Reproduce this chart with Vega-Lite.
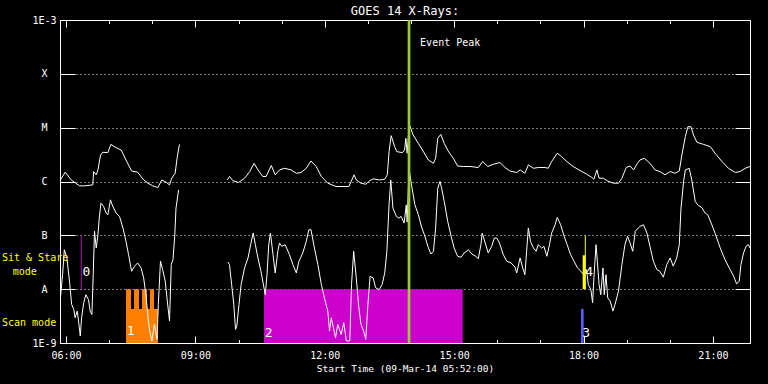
{
  "$schema": "https://vega.github.io/schema/vega-lite/v6.json",
  "autosize": {"type": "none"},
  "padding": {"left": 60, "top": 20, "right": 18, "bottom": 41},
  "width": 690,
  "height": 323,
  "background": "black",
  "title": {"text": "GOES 14 X-Rays:", "color": "white", "font": "DejaVu Sans Mono", "fontSize": 12, "fontWeight": "normal", "anchor": "middle", "offset": -3},
  "config": {
    "view": {"stroke": "white", "strokeWidth": 1},
    "axis": {"domain": false, "labelFont": "DejaVu Sans Mono", "labelColor": "white", "labelFontSize": 10, "tickColor": "white", "tickWidth": 1, "titleColor": "white", "titleFont": "DejaVu Sans Mono", "titleFontWeight": "normal", "titleFontSize": 9.5, "grid": false}
  },
  "datasets": {
    "xrays": [
      {"series":"L1","hour":5.87,"flux":1.07e-6},{"series":"L1","hour":5.98,"flux":1.49e-6},{"series":"L1","hour":6.12,"flux":1.07e-6},{"series":"L1","hour":6.31,"flux":8.3e-7},{"series":"L1","hour":6.43,"flux":8.3e-7},{"series":"L1","hour":6.62,"flux":8.65e-7},{"series":"L1","hour":6.64,"flux":1.53e-6},{"series":"L1","hour":6.70,"flux":1.33e-6},{"series":"L1","hour":6.74,"flux":1.64e-6},{"series":"L1","hour":6.80,"flux":3.1e-6},{"series":"L1","hour":6.85,"flux":3.49e-6},{"series":"L1","hour":6.97,"flux":3.44e-6},{"series":"L1","hour":7.04,"flux":4.9e-6},{"series":"L1","hour":7.16,"flux":4.26e-6},{"series":"L1","hour":7.28,"flux":3.84e-6},{"series":"L1","hour":7.39,"flux":2.51e-6},{"series":"L1","hour":7.52,"flux":1.57e-6},{"series":"L1","hour":7.66,"flux":1.49e-6},{"series":"L1","hour":7.80,"flux":1.07e-6},{"series":"L1","hour":7.90,"flux":9.3e-7},{"series":"L1","hour":8.01,"flux":8.3e-7},{"series":"L1","hour":8.13,"flux":7.74e-7},{"series":"L1","hour":8.22,"flux":1.07e-6},{"series":"L1","hour":8.32,"flux":9.7e-7},{"series":"L1","hour":8.40,"flux":8.65e-7},{"series":"L1","hour":8.45,"flux":1.15e-6},{"series":"L1","hour":8.53,"flux":1.42e-6},{"series":"L1","hour":8.58,"flux":2.9e-6},{"series":"L1","hour":8.63,"flux":4.9e-6},
      {"series":"L2","hour":9.74,"flux":1.07e-6},{"series":"L2","hour":9.79,"flux":1.24e-6},{"series":"L2","hour":9.87,"flux":1.03e-6},{"series":"L2","hour":10.00,"flux":9.6e-7},{"series":"L2","hour":10.14,"flux":1.15e-6},{"series":"L2","hour":10.26,"flux":1.53e-6},{"series":"L2","hour":10.36,"flux":2.18e-6},{"series":"L2","hour":10.45,"flux":1.64e-6},{"series":"L2","hour":10.56,"flux":1.24e-6},{"series":"L2","hour":10.64,"flux":1.24e-6},{"series":"L2","hour":10.76,"flux":1.98e-6},{"series":"L2","hour":10.85,"flux":1.33e-6},{"series":"L2","hour":10.95,"flux":1.64e-6},{"series":"L2","hour":11.07,"flux":1.76e-6},{"series":"L2","hour":11.22,"flux":1.64e-6},{"series":"L2","hour":11.34,"flux":1.42e-6},{"series":"L2","hour":11.45,"flux":1.47e-6},{"series":"L2","hour":11.57,"flux":1.76e-6},{"series":"L2","hour":11.68,"flux":2.41e-6},{"series":"L2","hour":11.80,"flux":1.9e-6},{"series":"L2","hour":11.92,"flux":1.24e-6},{"series":"L2","hour":12.07,"flux":9.3e-7},{"series":"L2","hour":12.26,"flux":8.07e-7},{"series":"L2","hour":12.56,"flux":8.07e-7},{"series":"L2","hour":12.61,"flux":1.0e-6},{"series":"L2","hour":12.68,"flux":1.33e-6},{"series":"L2","hour":12.73,"flux":1.07e-6},{"series":"L2","hour":12.84,"flux":9.3e-7},{"series":"L2","hour":12.95,"flux":8.9e-7},{"series":"L2","hour":13.04,"flux":1.03e-6},{"series":"L2","hour":13.12,"flux":1.12e-6},{"series":"L2","hour":13.27,"flux":1.07e-6},{"series":"L2","hour":13.39,"flux":1.1e-6},{"series":"L2","hour":13.45,"flux":1.33e-6},{"series":"L2","hour":13.49,"flux":3.59e-6},{"series":"L2","hour":13.54,"flux":7.1e-6},{"series":"L2","hour":13.62,"flux":4.45e-6},{"series":"L2","hour":13.67,"flux":3.59e-6},{"series":"L2","hour":13.80,"flux":3.44e-6},{"series":"L2","hour":13.85,"flux":3.84e-6},{"series":"L2","hour":13.88,"flux":6.34e-6},{"series":"L2","hour":13.91,"flux":3.35e-6},{"series":"L2","hour":13.94,"flux":7.2e-6},{"series":"L2","hour":13.97,"flux":1.09e-5},{"series":"L2","hour":14.05,"flux":7.3e-6},{"series":"L2","hour":14.17,"flux":5.1e-6},{"series":"L2","hour":14.28,"flux":3.68e-6},{"series":"L2","hour":14.40,"flux":2.51e-6},{"series":"L2","hour":14.52,"flux":2.18e-6},{"series":"L2","hour":14.57,"flux":2.7e-6},{"series":"L2","hour":14.62,"flux":6.34e-6},{"series":"L2","hour":14.69,"flux":7.5e-6},{"series":"L2","hour":14.77,"flux":5.1e-6},{"series":"L2","hour":14.86,"flux":3.68e-6},{"series":"L2","hour":14.98,"flux":2.7e-6},{"series":"L2","hour":15.08,"flux":1.94e-6},{"series":"L2","hour":15.21,"flux":1.9e-6},{"series":"L2","hour":15.37,"flux":1.9e-6},{"series":"L2","hour":15.56,"flux":1.82e-6},{"series":"L2","hour":15.66,"flux":2.35e-6},{"series":"L2","hour":15.78,"flux":1.9e-6},{"series":"L2","hour":15.91,"flux":2.09e-6},{"series":"L2","hour":16.06,"flux":2.25e-6},{"series":"L2","hour":16.18,"flux":1.82e-6},{"series":"L2","hour":16.29,"flux":1.57e-6},{"series":"L2","hour":16.45,"flux":1.47e-6},{"series":"L2","hour":16.53,"flux":1.64e-6},{"series":"L2","hour":16.64,"flux":1.42e-6},{"series":"L2","hour":16.72,"flux":2.03e-6},{"series":"L2","hour":16.84,"flux":1.76e-6},{"series":"L2","hour":16.95,"flux":1.82e-6},{"series":"L2","hour":17.11,"flux":1.82e-6},{"series":"L2","hour":17.18,"flux":1.76e-6},{"series":"L2","hour":17.26,"flux":2.35e-6},{"series":"L2","hour":17.39,"flux":3.35e-6},{"series":"L2","hour":17.49,"flux":2.9e-6},{"series":"L2","hour":17.61,"flux":2.35e-6},{"series":"L2","hour":17.76,"flux":1.9e-6},{"series":"L2","hour":17.92,"flux":1.6e-6},{"series":"L2","hour":18.07,"flux":1.37e-6},{"series":"L2","hour":18.19,"flux":1.19e-6},{"series":"L2","hour":18.24,"flux":1.1e-6},{"series":"L2","hour":18.31,"flux":1.64e-6},{"series":"L2","hour":18.36,"flux":1.15e-6},{"series":"L2","hour":18.46,"flux":1.15e-6},{"series":"L2","hour":18.55,"flux":1.03e-6},{"series":"L2","hour":18.69,"flux":9.3e-7},{"series":"L2","hour":18.81,"flux":9.3e-7},{"series":"L2","hour":18.89,"flux":1.15e-6},{"series":"L2","hour":18.99,"flux":1.82e-6},{"series":"L2","hour":19.08,"flux":1.94e-6},{"series":"L2","hour":19.16,"flux":1.64e-6},{"series":"L2","hour":19.25,"flux":2.18e-6},{"series":"L2","hour":19.31,"flux":2.51e-6},{"series":"L2","hour":19.41,"flux":2.7e-6},{"series":"L2","hour":19.54,"flux":2.18e-6},{"series":"L2","hour":19.66,"flux":1.64e-6},{"series":"L2","hour":19.77,"flux":1.53e-6},{"series":"L2","hour":19.89,"flux":1.33e-6},{"series":"L2","hour":20.01,"flux":1.53e-6},{"series":"L2","hour":20.12,"flux":1.42e-6},{"series":"L2","hour":20.22,"flux":1.57e-6},{"series":"L2","hour":20.28,"flux":3.1e-6},{"series":"L2","hour":20.36,"flux":6.81e-6},{"series":"L2","hour":20.42,"flux":1.04e-5},{"series":"L2","hour":20.49,"flux":1.04e-5},{"series":"L2","hour":20.55,"flux":7.3e-6},{"series":"L2","hour":20.63,"flux":5.35e-6},{"series":"L2","hour":20.78,"flux":4.9e-6},{"series":"L2","hour":20.94,"flux":4.45e-6},{"series":"L2","hour":21.05,"flux":3.35e-6},{"series":"L2","hour":21.21,"flux":2.35e-6},{"series":"L2","hour":21.36,"flux":1.76e-6},{"series":"L2","hour":21.52,"flux":1.47e-6},{"series":"L2","hour":21.63,"flux":1.53e-6},{"series":"L2","hour":21.75,"flux":1.76e-6},{"series":"L2","hour":21.86,"flux":1.9e-6},
      {"series":"S1","hour":5.87,"flux":6.9e-9},{"series":"S1","hour":5.92,"flux":1.86e-8},{"series":"S1","hour":5.96,"flux":5.4e-8},{"series":"S1","hour":6.02,"flux":3.8e-8},{"series":"S1","hour":6.08,"flux":1.41e-8},{"series":"S1","hour":6.13,"flux":5.2e-9},{"series":"S1","hour":6.18,"flux":4.2e-9},{"series":"S1","hour":6.21,"flux":2.94e-9},{"series":"S1","hour":6.26,"flux":3.91e-9},{"series":"S1","hour":6.29,"flux":2.56e-9},{"series":"S1","hour":6.33,"flux":1.35e-9},{"series":"S1","hour":6.36,"flux":2.94e-9},{"series":"S1","hour":6.41,"flux":5.6e-9},{"series":"S1","hour":6.46,"flux":7.9e-9},{"series":"S1","hour":6.52,"flux":6.4e-9},{"series":"S1","hour":6.56,"flux":3.91e-9},{"series":"S1","hour":6.60,"flux":3.38e-9},{"series":"S1","hour":6.63,"flux":1.86e-8},{"series":"S1","hour":6.66,"flux":1.19e-7},{"series":"S1","hour":6.70,"flux":5.8e-8},{"series":"S1","hour":6.74,"flux":1.03e-7},{"series":"S1","hour":6.77,"flux":2.09e-7},{"series":"S1","hour":6.81,"flux":3.96e-7},{"series":"S1","hour":6.87,"flux":3.44e-7},{"series":"S1","hour":6.93,"flux":2.59e-7},{"series":"S1","hour":6.97,"flux":2.41e-7},{"series":"S1","hour":7.03,"flux":4.56e-7},{"series":"S1","hour":7.07,"flux":3.68e-7},{"series":"S1","hour":7.16,"flux":2.59e-7},{"series":"S1","hour":7.24,"flux":2.25e-7},{"series":"S1","hour":7.32,"flux":1.37e-7},{"series":"S1","hour":7.39,"flux":7.74e-8},{"series":"S1","hour":7.45,"flux":4.37e-8},{"series":"S1","hour":7.52,"flux":2.15e-8},{"series":"S1","hour":7.59,"flux":2.67e-8},{"series":"S1","hour":7.66,"flux":3.07e-8},{"series":"S1","hour":7.74,"flux":2.48e-8},{"series":"S1","hour":7.80,"flux":1.62e-8},{"series":"S1","hour":7.86,"flux":6.9e-9},{"series":"S1","hour":7.90,"flux":2.94e-9},{"series":"S1","hour":7.94,"flux":1.67e-9},{"series":"S1","hour":7.99,"flux":1.09e-9},{"series":"S1","hour":8.05,"flux":2.21e-9},{"series":"S1","hour":8.11,"flux":1.17e-9},{"series":"S1","hour":8.14,"flux":5.2e-9},{"series":"S1","hour":8.19,"flux":3.3e-8},{"series":"S1","hour":8.24,"flux":2.31e-8},{"series":"S1","hour":8.30,"flux":1.41e-8},{"series":"S1","hour":8.34,"flux":6.9e-9},{"series":"S1","hour":8.40,"flux":2.56e-9},{"series":"S1","hour":8.44,"flux":2.86e-8},{"series":"S1","hour":8.48,"flux":3.53e-8},{"series":"S1","hour":8.52,"flux":9.58e-8},{"series":"S1","hour":8.55,"flux":3.2e-7},{"series":"S1","hour":8.61,"flux":6.98e-7},
      {"series":"S2","hour":9.75,"flux":3.2e-8},{"series":"S2","hour":9.79,"flux":2.86e-8},{"series":"S2","hour":9.84,"flux":1.22e-8},{"series":"S2","hour":9.89,"flux":5.2e-9},{"series":"S2","hour":9.93,"flux":1.79e-9},{"series":"S2","hour":9.96,"flux":2.07e-9},{"series":"S2","hour":10.01,"flux":5.2e-9},{"series":"S2","hour":10.06,"flux":1.22e-8},{"series":"S2","hour":10.14,"flux":2.48e-8},{"series":"S2","hour":10.22,"flux":3.8e-8},{"series":"S2","hour":10.28,"flux":6.7e-8},{"series":"S2","hour":10.34,"flux":1.1e-7},{"series":"S2","hour":10.39,"flux":6.7e-8},{"series":"S2","hour":10.45,"flux":3.8e-8},{"series":"S2","hour":10.52,"flux":2.15e-8},{"series":"S2","hour":10.59,"flux":1.06e-8},{"series":"S2","hour":10.62,"flux":7.9e-9},{"series":"S2","hour":10.66,"flux":1.86e-8},{"series":"S2","hour":10.70,"flux":6.7e-8},{"series":"S2","hour":10.74,"flux":1.1e-7},{"series":"S2","hour":10.80,"flux":4.37e-8},{"series":"S2","hour":10.85,"flux":2.0e-8},{"series":"S2","hour":10.91,"flux":5.05e-8},{"series":"S2","hour":10.95,"flux":7.2e-8},{"series":"S2","hour":11.00,"flux":6.25e-8},{"series":"S2","hour":11.08,"flux":6.7e-8},{"series":"S2","hour":11.18,"flux":4.37e-8},{"series":"S2","hour":11.26,"flux":2.86e-8},{"series":"S2","hour":11.34,"flux":2.0e-8},{"series":"S2","hour":11.40,"flux":3.3e-8},{"series":"S2","hour":11.49,"flux":4.7e-8},{"series":"S2","hour":11.57,"flux":7.74e-8},{"series":"S2","hour":11.63,"flux":1.27e-7},{"series":"S2","hour":11.68,"flux":1.27e-7},{"series":"S2","hour":11.76,"flux":5.8e-8},{"series":"S2","hour":11.84,"flux":2.86e-8},{"series":"S2","hour":11.92,"flux":1.22e-8},{"series":"S2","hour":12.00,"flux":6.4e-9},{"series":"S2","hour":12.07,"flux":3.91e-9},{"series":"S2","hour":12.11,"flux":1.67e-9},{"series":"S2","hour":12.15,"flux":2.94e-9},{"series":"S2","hour":12.20,"flux":1.92e-9},{"series":"S2","hour":12.25,"flux":1.25e-9},{"series":"S2","hour":12.30,"flux":2.21e-9},{"series":"S2","hour":12.38,"flux":1.44e-9},{"series":"S2","hour":12.44,"flux":2.38e-9},{"series":"S2","hour":12.50,"flux":1.09e-9},{"series":"S2","hour":12.58,"flux":1.09e-9},{"series":"S2","hour":12.62,"flux":1.22e-8},{"series":"S2","hour":12.67,"flux":5.05e-8},{"series":"S2","hour":12.73,"flux":1.62e-8},{"series":"S2","hour":12.79,"flux":4.5e-9},{"series":"S2","hour":12.84,"flux":2.21e-9},{"series":"S2","hour":12.90,"flux":1.67e-9},{"series":"S2","hour":12.95,"flux":1.17e-9},{"series":"S2","hour":13.00,"flux":5.2e-9},{"series":"S2","hour":13.05,"flux":1.74e-8},{"series":"S2","hour":13.12,"flux":1.62e-8},{"series":"S2","hour":13.18,"flux":1.06e-8},{"series":"S2","hour":13.26,"flux":9.8e-9},{"series":"S2","hour":13.33,"flux":1.22e-8},{"series":"S2","hour":13.39,"flux":2.0e-8},{"series":"S2","hour":13.44,"flux":5.05e-8},{"series":"S2","hour":13.49,"flux":3.68e-7},{"series":"S2","hour":13.53,"flux":1.07e-6},{"series":"S2","hour":13.58,"flux":3.2e-7},{"series":"S2","hour":13.66,"flux":2.25e-7},{"series":"S2","hour":13.72,"flux":2.09e-7},{"series":"S2","hour":13.77,"flux":2.25e-7},{"series":"S2","hour":13.84,"flux":1.69e-7},{"series":"S2","hour":13.89,"flux":3.68e-7},{"series":"S2","hour":13.91,"flux":1.76e-7},{"series":"S2","hour":13.94,"flux":8.55e-7},{"series":"S2","hour":13.97,"flux":1.42e-6},{"series":"S2","hour":14.01,"flux":8.65e-7},{"series":"S2","hour":14.09,"flux":3.68e-7},{"series":"S2","hour":14.17,"flux":2.41e-7},{"series":"S2","hour":14.25,"flux":1.37e-7},{"series":"S2","hour":14.31,"flux":1.03e-7},{"series":"S2","hour":14.39,"flux":6.25e-8},{"series":"S2","hour":14.46,"flux":4.5e-8},{"series":"S2","hour":14.52,"flux":5.05e-8},{"series":"S2","hour":14.57,"flux":1.37e-7},{"series":"S2","hour":14.62,"flux":7.5e-7},{"series":"S2","hour":14.67,"flux":1.0e-6},{"series":"S2","hour":14.71,"flux":7.5e-7},{"series":"S2","hour":14.77,"flux":4.26e-7},{"series":"S2","hour":14.85,"flux":1.82e-7},{"series":"S2","hour":14.93,"flux":9.6e-8},{"series":"S2","hour":15.00,"flux":5.8e-8},{"series":"S2","hour":15.08,"flux":4.08e-8},{"series":"S2","hour":15.16,"flux":3.91e-8},{"series":"S2","hour":15.23,"flux":4.7e-8},{"series":"S2","hour":15.33,"flux":5.4e-8},{"series":"S2","hour":15.41,"flux":4.5e-8},{"series":"S2","hour":15.50,"flux":4.08e-8},{"series":"S2","hour":15.56,"flux":3.68e-8},{"series":"S2","hour":15.62,"flux":6.7e-8},{"series":"S2","hour":15.65,"flux":1.1e-7},{"series":"S2","hour":15.72,"flux":7.2e-8},{"series":"S2","hour":15.79,"flux":4.7e-8},{"series":"S2","hour":15.87,"flux":6.25e-8},{"series":"S2","hour":15.93,"flux":8.9e-8},{"series":"S2","hour":15.99,"flux":8.9e-8},{"series":"S2","hour":16.05,"flux":7.2e-8},{"series":"S2","hour":16.14,"flux":4.37e-8},{"series":"S2","hour":16.22,"flux":3.3e-8},{"series":"S2","hour":16.32,"flux":3.07e-8},{"series":"S2","hour":16.41,"flux":2.56e-8},{"series":"S2","hour":16.45,"flux":2.0e-8},{"series":"S2","hour":16.53,"flux":3.8e-8},{"series":"S2","hour":16.59,"flux":2.48e-8},{"series":"S2","hour":16.64,"flux":1.86e-8},{"series":"S2","hour":16.68,"flux":5.05e-8},{"series":"S2","hour":16.72,"flux":1.37e-7},{"series":"S2","hour":16.77,"flux":7.74e-8},{"series":"S2","hour":16.84,"flux":5.8e-8},{"series":"S2","hour":16.90,"flux":5.05e-8},{"series":"S2","hour":16.95,"flux":6.7e-8},{"series":"S2","hour":17.03,"flux":5.8e-8},{"series":"S2","hour":17.08,"flux":6.25e-8},{"series":"S2","hour":17.15,"flux":4.08e-8},{"series":"S2","hour":17.21,"flux":6.7e-8},{"series":"S2","hour":17.26,"flux":1.1e-7},{"series":"S2","hour":17.34,"flux":1.57e-7},{"series":"S2","hour":17.39,"flux":2.15e-7},{"series":"S2","hour":17.47,"flux":1.57e-7},{"series":"S2","hour":17.55,"flux":9.6e-8},{"series":"S2","hour":17.62,"flux":6.7e-8},{"series":"S2","hour":17.70,"flux":4.37e-8},{"series":"S2","hour":17.78,"flux":3.3e-8},{"series":"S2","hour":17.86,"flux":2.48e-8},{"series":"S2","hour":17.94,"flux":2.15e-8},{"series":"S2","hour":18.00,"flux":1.86e-8},{"series":"S2","hour":18.07,"flux":2.31e-8},{"series":"S2","hour":18.11,"flux":1.22e-8},{"series":"S2","hour":18.17,"flux":9.8e-9},{"series":"S2","hour":18.21,"flux":5.6e-9},{"series":"S2","hour":18.24,"flux":1.62e-8},{"series":"S2","hour":18.29,"flux":6.7e-8},{"series":"S2","hour":18.32,"flux":3.3e-8},{"series":"S2","hour":18.36,"flux":1.22e-8},{"series":"S2","hour":18.40,"flux":7.9e-9},{"series":"S2","hour":18.45,"flux":2.48e-8},{"series":"S2","hour":18.48,"flux":7.9e-9},{"series":"S2","hour":18.52,"flux":1.86e-8},{"series":"S2","hour":18.56,"flux":6.9e-9},{"series":"S2","hour":18.62,"flux":6.0e-9},{"series":"S2","hour":18.68,"flux":3.91e-9},{"series":"S2","hour":18.73,"flux":5.2e-9},{"series":"S2","hour":18.81,"flux":9.2e-9},{"series":"S2","hour":18.89,"flux":2.86e-8},{"series":"S2","hour":18.96,"flux":6.7e-8},{"series":"S2","hour":19.02,"flux":9.6e-8},{"series":"S2","hour":19.08,"flux":7.2e-8},{"series":"S2","hour":19.14,"flux":5.05e-8},{"series":"S2","hour":19.20,"flux":1.19e-7},{"series":"S2","hour":19.27,"flux":1.37e-7},{"series":"S2","hour":19.31,"flux":1.47e-7},{"series":"S2","hour":19.39,"flux":1.57e-7},{"series":"S2","hour":19.47,"flux":1.1e-7},{"series":"S2","hour":19.54,"flux":6.25e-8},{"series":"S2","hour":19.62,"flux":3.3e-8},{"series":"S2","hour":19.70,"flux":2.31e-8},{"series":"S2","hour":19.77,"flux":2.15e-8},{"series":"S2","hour":19.85,"flux":1.67e-8},{"series":"S2","hour":19.93,"flux":2.86e-8},{"series":"S2","hour":20.01,"flux":3.8e-8},{"series":"S2","hour":20.08,"flux":2.67e-8},{"series":"S2","hour":20.16,"flux":3.8e-8},{"series":"S2","hour":20.22,"flux":6.7e-8},{"series":"S2","hour":20.26,"flux":3.2e-7},{"series":"S2","hour":20.32,"flux":1.0e-6},{"series":"S2","hour":20.36,"flux":1.64e-6},{"series":"S2","hour":20.45,"flux":1.76e-6},{"series":"S2","hour":20.51,"flux":1.07e-6},{"series":"S2","hour":20.59,"flux":4.26e-7},{"series":"S2","hour":20.66,"flux":3.59e-7},{"series":"S2","hour":20.74,"flux":3.3e-7},{"series":"S2","hour":20.82,"flux":2.59e-7},{"series":"S2","hour":20.88,"flux":2.41e-7},{"series":"S2","hour":20.96,"flux":1.69e-7},{"series":"S2","hour":21.05,"flux":1.1e-7},{"series":"S2","hour":21.17,"flux":5.8e-8},{"series":"S2","hour":21.28,"flux":3.53e-8},{"series":"S2","hour":21.40,"flux":2.31e-8},{"series":"S2","hour":21.48,"flux":1.74e-8},{"series":"S2","hour":21.55,"flux":1.25e-8},{"series":"S2","hour":21.61,"flux":1.41e-8},{"series":"S2","hour":21.65,"flux":2.86e-8},{"series":"S2","hour":21.71,"flux":4.7e-8},{"series":"S2","hour":21.77,"flux":6.25e-8},{"series":"S2","hour":21.82,"flux":6.7e-8},{"series":"S2","hour":21.86,"flux":5.8e-8}
    ]
  },
  "layer": [
    {
      "data": {"values": [
        {"mode": "Scan 1", "start": 7.39, "end": 8.133, "low": 1e-9, "high": 4.3e-9},
        {"mode": "Scan 1", "start": 7.39, "end": 7.506, "low": 1e-9, "high": 1e-8},
        {"mode": "Scan 1", "start": 7.576, "end": 7.692, "low": 1e-9, "high": 1e-8},
        {"mode": "Scan 1", "start": 7.761, "end": 7.877, "low": 1e-9, "high": 1e-8},
        {"mode": "Scan 1", "start": 7.947, "end": 8.04, "low": 1e-9, "high": 1e-8},
        {"mode": "Scan 2", "start": 10.59, "end": 15.198, "low": 1e-9, "high": 1e-8}
      ]},
      "mark": {"type": "rect"},
      "encoding": {
        "x": {"field": "start", "type": "quantitative", "scale": {"domain": [5.86, 21.86], "nice": false, "zero": false}, "axis": null},
        "x2": {"field": "end"},
        "y": {"field": "low", "type": "quantitative", "scale": {"type": "log", "domain": [1e-9, 1e-3], "nice": false}, "axis": null},
        "y2": {"field": "high"},
        "color": {"field": "mode", "type": "nominal", "scale": {"domain": ["Scan 1", "Scan 2"], "range": ["#ff8000", "#cc00cc"]}, "legend": null}
      }
    },
    {
      "data": {"name": "xrays"},
      "mark": {"type": "line", "color": "white", "strokeWidth": 1},
      "encoding": {
        "x": {"field": "hour", "type": "quantitative", "scale": {"domain": [5.86, 21.86], "nice": false, "zero": false},
          "axis": {"orient": "bottom", "values": [6,7,8,9,10,11,12,13,14,15,16,17,18,19,20,21],
            "labelExpr": "datum.value % 3 === 0 ? (datum.value < 10 ? '0' : '') + datum.value + ':00' : ''",
            "tickSize": {"condition": {"test": "datum.value % 3 === 0", "value": -7}, "value": -3.5},
            "labelPadding": 19, "labelBaseline": "middle", "labelFlush": false,
            "title": "Start Time (09-Mar-14 05:52:00)", "titlePadding": 3}},
        "y": {"field": "flux", "type": "quantitative", "scale": {"type": "log", "domain": [1e-9, 1e-3], "nice": false},
          "axis": {"orient": "left", "values": [1e-9,1e-8,1e-7,1e-6,1e-5,1e-4,1e-3],
            "labelExpr": "datum.value < 5e-9 ? '1E-9' : datum.value < 5e-8 ? 'A' : datum.value < 5e-7 ? 'B' : datum.value < 5e-6 ? 'C' : datum.value < 5e-5 ? 'M' : datum.value < 5e-4 ? 'X' : '1E-3'",
            "tickSize": -15, "labelAlign": "center", "labelBaseline": "middle", "labelPadding": 31, "labelFlush": false,
            "grid": true, "gridColor": "white", "gridDash": [1, 3], "gridOpacity": 1, "gridWidth": 1, "title": null}},
        "detail": {"field": "series", "type": "nominal"}
      }
    },
    {
      "data": {"values": [
        {"event": "Event peak", "hour": 13.953, "low": 1e-9, "high": 1e-3},
        {"event": "Scan 3", "hour": 17.971, "low": 1e-9, "high": 4.3e-9},
        {"event": "Sit & Stare 4", "hour": 18.011, "low": 1e-8, "high": 4.26e-8}
      ]},
      "mark": {"type": "rule", "strokeWidth": 2.7},
      "encoding": {
        "x": {"field": "hour", "type": "quantitative", "scale": {"domain": [5.86, 21.86], "nice": false, "zero": false},
          "axis": {"orient": "top", "values": [6,7,8,9,10,11,12,13,14,15,16,17,18,19,20,21], "labels": false,
            "tickSize": {"condition": {"test": "datum.value % 3 === 0", "value": -7}, "value": -3.5}, "title": null}},
        "y": {"field": "low", "type": "quantitative", "scale": {"type": "log", "domain": [1e-9, 1e-3], "nice": false},
          "axis": {"orient": "right", "values": [1e-9,1e-8,1e-7,1e-6,1e-5,1e-4,1e-3], "labels": false, "tickSize": -15, "title": null}},
        "y2": {"field": "high"},
        "color": {"field": "event", "type": "nominal", "scale": {"domain": ["Event peak", "Scan 3", "Sit & Stare 4"], "range": ["#9acd32", "#5a5aff", "#ffff00"]}, "legend": null}
      }
    },
    {
      "data": {"values": [
        {"event": "Sit & Stare 0", "hour": 6.354, "low": 1e-8, "high": 1e-7},
        {"event": "Sit & Stare 4", "hour": 18.041, "low": 1e-8, "high": 1e-7}
      ]},
      "mark": {"type": "rule", "strokeWidth": 1},
      "encoding": {
        "x": {"field": "hour", "type": "quantitative", "scale": {"domain": [5.86, 21.86], "nice": false, "zero": false}, "axis": null},
        "y": {"field": "low", "type": "quantitative", "scale": {"type": "log", "domain": [1e-9, 1e-3], "nice": false}, "axis": null},
        "y2": {"field": "high"},
        "color": {"field": "event", "type": "nominal", "scale": {"domain": ["Sit & Stare 0", "Sit & Stare 4"], "range": ["#b000b0", "#ffff00"]}, "legend": null}
      }
    },
    {
      "data": {"values": [
        {"label": "0", "hour": 6.47, "flux": 2.08e-8},
        {"label": "1", "hour": 7.50, "flux": 1.65e-9},
        {"label": "2", "hour": 10.70, "flux": 1.53e-9},
        {"label": "3", "hour": 18.06, "flux": 1.53e-9},
        {"label": "4", "hour": 18.13, "flux": 2.08e-8}
      ]},
      "mark": {"type": "text", "color": "white", "font": "DejaVu Sans Mono", "fontSize": 13, "align": "center", "baseline": "middle"},
      "encoding": {
        "x": {"field": "hour", "type": "quantitative", "scale": {"domain": [5.86, 21.86], "nice": false, "zero": false}, "axis": null},
        "y": {"field": "flux", "type": "quantitative", "scale": {"type": "log", "domain": [1e-9, 1e-3], "nice": false}, "axis": null},
        "text": {"field": "label"}
      }
    },
    {
      "data": {"values": [
        {"label": "Event Peak", "hour": 14.21, "flux": 3.74e-4}
      ]},
      "mark": {"type": "text", "color": "white", "font": "DejaVu Sans Mono", "fontSize": 10, "align": "left", "baseline": "middle"},
      "encoding": {
        "x": {"field": "hour", "type": "quantitative", "scale": {"domain": [5.86, 21.86], "nice": false, "zero": false}, "axis": null},
        "y": {"field": "flux", "type": "quantitative", "scale": {"type": "log", "domain": [1e-9, 1e-3], "nice": false}, "axis": null},
        "text": {"field": "label"}
      }
    },
    {
      "data": {"values": [
        {"label": "Sit & Stare", "hour": 4.515, "flux": 3.74e-8},
        {"label": "mode", "hour": 4.763, "flux": 2.11e-8},
        {"label": "Scan mode", "hour": 4.515, "flux": 2.32e-9}
      ]},
      "mark": {"type": "text", "color": "#ffff00", "font": "DejaVu Sans Mono", "fontSize": 10, "align": "left", "baseline": "middle"},
      "encoding": {
        "x": {"field": "hour", "type": "quantitative", "scale": {"domain": [5.86, 21.86], "nice": false, "zero": false}, "axis": null},
        "y": {"field": "flux", "type": "quantitative", "scale": {"type": "log", "domain": [1e-9, 1e-3], "nice": false}, "axis": null},
        "text": {"field": "label"}
      }
    }
  ],
  "resolve": {"axis": {"x": "independent", "y": "independent"}, "scale": {"color": "independent"}}
}
